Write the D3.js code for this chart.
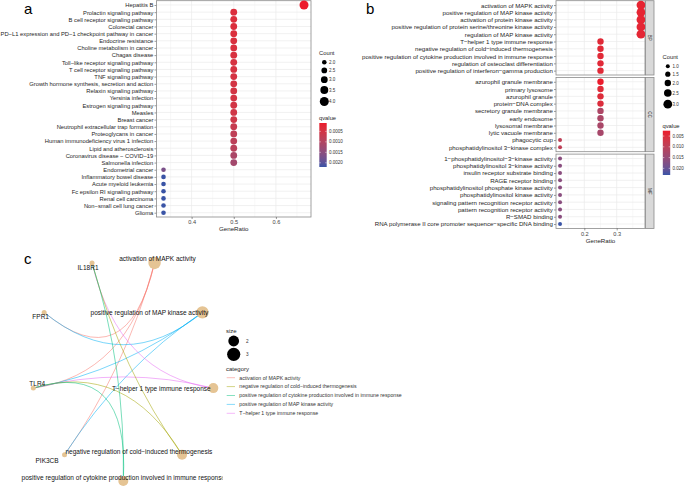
<!DOCTYPE html>
<html><head><meta charset="utf-8">
<script src="https://cdn.jsdelivr.net/npm/d3@7/dist/d3.min.js"></script>
<style>body{margin:0;background:#fff}svg{font-family:"Liberation Sans",Arial,Helvetica,sans-serif}</style>
</head><body><svg id="fig" width="685" height="487"></svg>
<script>
// ================= DATA =================
// Panel a: KEGG enrichment
const keggTerms = ["Hepatitis B","Prolactin signaling pathway","B cell receptor signaling pathway","Colorectal cancer",
 "PD\u2212L1 expression and PD\u22121 checkpoint pathway in cancer","Endocrine resistance","Choline metabolism in cancer",
 "Chagas disease","Toll\u2212like receptor signaling pathway","T cell receptor signaling pathway","TNF signaling pathway",
 "Growth hormone synthesis, secretion and action","Relaxin signaling pathway","Yersinia infection","Estrogen signaling pathway",
 "Measles","Breast cancer","Neutrophil extracellular trap formation","Proteoglycans in cancer",
 "Human immunodeficiency virus 1 infection","Lipid and atherosclerosis","Coronavirus disease \u2212 COVID\u221219",
 "Salmonella infection","Endometrial cancer","Inflammatory bowel disease","Acute myeloid leukemia",
 "Fc epsilon RI signaling pathway","Renal cell carcinoma","Non\u2212small cell lung cancer","Glioma"];
const keggGeneRatio = [4/6,3/6,3/6,3/6,3/6,3/6,3/6,3/6,3/6,3/6,3/6,3/6,3/6,3/6,3/6,3/6,3/6,3/6,3/6,3/6,3/6,3/6,3/6,
 2/6,2/6,2/6,2/6,2/6,2/6,2/6];
const keggCount = [4,3,3,3,3,3,3,3,3,3,3,3,3,3,3,3,3,3,3,3,3,3,3,2,2,2,2,2,2,2];
const keggQ = [0.0001,0.00035,0.00036,0.00037,0.00038,0.0004,0.0004,0.00042,0.00045,0.00045,0.00047,0.0005,0.0005,0.0005,
 0.00052,0.00055,0.00058,0.0007,0.0008,0.00085,0.0009,0.0011,0.0012,0.0017,0.0022,0.0022,0.0022,0.0022,0.0022,0.0022];
const keggXTicks = [0.4,0.5,0.6];
const keggCountTicks = [2.0,2.5,3.0,3.5,4.0];
const keggQTicks = [0.0005,0.0010,0.0015,0.0020];

// Panel b: GO enrichment
const goOntologies = ["BP","CC","MF"];
const goTermsBP = ["activation of MAPK activity","positive regulation of MAP kinase activity","activation of protein kinase activity",
 "positive regulation of protein serine/threonine kinase activity","regulation of MAP kinase activity","T\u2212helper 1 type immune response",
 "negative regulation of cold\u2212induced thermogenesis","positive regulation of cytokine production involved in immune response",
 "regulation of osteoclast differentiation","positive regulation of interferon\u2212gamma production"];
const goTermsCC = ["azurophil granule membrane","primary lysosome","azurophil granule","protein\u2212DNA complex",
 "secretory granule membrane","early endosome","lysosomal membrane","lytic vacuole membrane","phagocytic cup",
 "phosphatidylinositol 3\u2212kinase complex"];
const goTermsMF = ["1\u2212phosphatidylinositol\u22123\u2212kinase activity","phosphatidylinositol 3\u2212kinase activity",
 "insulin receptor substrate binding","RAGE receptor binding","phosphatidylinositol phosphate kinase activity",
 "phosphatidylinositol kinase activity","signaling pattern recognition receptor activity","pattern recognition receptor activity",
 "R\u2212SMAD binding","RNA polymerase II core promoter sequence\u2212specific DNA binding"];
const goRatioBP = [3/8,3/8,3/8,3/8,3/8,2/8,2/8,2/8,2/8,2/8];
const goRatioCC = [2/8,2/8,2/8,2/8,2/8,2/8,2/8,2/8,1/8,1/8];
const goRatioMF = [1/8,1/8,1/8,1/8,1/8,1/8,1/8,1/8,1/8,1/8];
const goCountBP = [3,3,3,3,3,2,2,2,2,2];
const goCountCC = [2,2,2,2,2,2,2,2,1,1];
const goCountMF = [1,1,1,1,1,1,1,1,1,1];
const goQBP = [0.0035,0.0035,0.0036,0.0037,0.0038,0.0042,0.0042,0.0042,0.0043,0.0044];
const goQCC = [0.0025,0.0045,0.0048,0.0050,0.0120,0.0122,0.0125,0.0128,0.0095,0.0095];
const goQMF = [0.0165,0.0165,0.0165,0.0165,0.0165,0.0165,0.0165,0.0165,0.0165,0.0231];
const goXTicks = [0.2,0.3];
const goCountTicks = [1.0,1.5,2.0,2.5,3.0];
const goQTicks = [0.005,0.010,0.015,0.020];

// Panel c: gene-concept network (circular layout order, starting at the bottom)
const netNodes = ["positive regulation of cytokine production involved in immune response",
 "negative regulation of cold\u2212induced thermogenesis","T\u2212helper 1 type immune response",
 "positive regulation of MAP kinase activity","activation of MAPK activity","IL18R1","FPR1","TLR4","PIK3CB"];
const netNodeSize = [2,2,2,3,3,null,null,null,null];
const netCategories = ["activation of MAPK activity","negative regulation of cold\u2212induced thermogenesis",
 "positive regulation of cytokine production involved in immune response","positive regulation of MAP kinase activity",
 "T\u2212helper 1 type immune response"];
const netEdgeFrom = ["activation of MAPK activity","activation of MAPK activity","activation of MAPK activity",
 "positive regulation of MAP kinase activity","positive regulation of MAP kinase activity","positive regulation of MAP kinase activity",
 "T\u2212helper 1 type immune response","T\u2212helper 1 type immune response",
 "negative regulation of cold\u2212induced thermogenesis","negative regulation of cold\u2212induced thermogenesis",
 "positive regulation of cytokine production involved in immune response","positive regulation of cytokine production involved in immune response"];
const netEdgeTo = ["FPR1","TLR4","PIK3CB","FPR1","TLR4","PIK3CB","IL18R1","TLR4","IL18R1","TLR4","IL18R1","TLR4"];
const netSizeTicks = [2,3];

// ================= STYLE =================
const qLow = "#EC1B2C", qHigh = "#3A54A6";
const gridCol = "#EBEBEB", borderCol = "#8A8A8A", txtCol = "#1E1E1E";
const catColors = ["#F8766D","#A3A500","#00BF7D","#00B0F6","#E76BF3"];
const nodeCol = "#E5C494";
const labelNudge = {
 "positive regulation of cytokine production involved in immune response":[0,-3.7,"middle"],
 "negative regulation of cold\u2212induced thermogenesis":[30.3,-2.6,"end"],
 "T\u2212helper 1 type immune response":[-2.6,0.7,"end"],
 "positive regulation of MAP kinase activity":[5.8,0.6,"end"],
 "activation of MAPK activity":[3,-4.5,"middle"],
 "IL18R1":[-4,4.5,"middle"],"FPR1":[-3.5,4.7,"middle"],"TLR4":[4,-4,"middle"],"PIK3CB":[-17.5,6.4,"middle"]};

const svg = d3.select("#fig");
svg.append("rect").attr("width",685).attr("height",487).attr("fill","#fff");
const defs = svg.append("defs");

function drawFrame(g, x, y0, y1, minorTicks, majorTicks, rowScale, fs){
  const [xl,xr] = x.range();
  g.append("rect").attr("x",xl).attr("y",y0).attr("width",xr-xl).attr("height",y1-y0).attr("fill","#fff");
  g.selectAll(null).data(minorTicks).join("line").attr("x1",d=>x(d)).attr("x2",d=>x(d)).attr("y1",y0).attr("y2",y1)
    .attr("stroke",gridCol).attr("stroke-width",0.35);
  g.selectAll(null).data(majorTicks).join("line").attr("x1",d=>x(d)).attr("x2",d=>x(d)).attr("y1",y0).attr("y2",y1)
    .attr("stroke",gridCol).attr("stroke-width",0.7);
  g.selectAll(null).data(rowScale.domain()).join("line").attr("x1",xl).attr("x2",xr).attr("y1",d=>rowScale(d)).attr("y2",d=>rowScale(d))
    .attr("stroke",gridCol).attr("stroke-width",0.7);
  const ax = g.append("g").attr("transform",`translate(${xl},0)`).call(d3.axisLeft(rowScale).tickSize(2).tickPadding(1.2));
  ax.select(".domain").remove();
  ax.selectAll("line").attr("stroke","#333").attr("stroke-width",0.5);
  ax.selectAll("text").attr("font-size",fs).attr("fill",txtCol).attr("font-family",null);
  g.append("rect").attr("x",xl).attr("y",y0).attr("width",xr-xl).attr("height",y1-y0)
    .attr("fill","none").attr("stroke",borderCol).attr("stroke-width",0.8);
}
function drawXAxis(g, x, y1, ticks, fmt){
  const ax = g.append("g").attr("transform",`translate(0,${y1})`).call(d3.axisBottom(x).tickValues(ticks).tickSize(2).tickPadding(1.5).tickFormat(fmt));
  ax.select(".domain").remove();
  ax.selectAll("line").attr("stroke","#333").attr("stroke-width",0.5);
  ax.selectAll("text").attr("font-size",5.6).attr("fill","#444").attr("font-family",null);
  const [xl,xr] = x.range();
  g.append("text").attr("x",(xl+xr)/2).attr("y",y1+14.3).attr("text-anchor","middle").attr("font-size",6.2)
    .attr("fill",txtCol).text("GeneRatio");
}
function drawCountLegend(g, x0, yTitle, ticks, r){
  g.append("text").attr("x",x0).attr("y",yTitle).attr("font-size",5.8).attr("fill",txtCol).text("Count");
  let cy = yTitle + 7.2, prevH = 0;
  ticks.forEach((t,i)=>{
    const h = Math.max(7.7, 2*r(t)+3);
    if(i>0) cy += (prevH+h)/2;
    prevH = h;
    g.append("circle").attr("cx",x0+5.3).attr("cy",cy).attr("r",r(t)).attr("fill","#000");
    g.append("text").attr("x",x0+10).attr("y",cy).attr("dy","0.35em").attr("font-size",4.5).attr("fill","#333").text(d3.format(".1f")(t));
  });
}
function drawQLegend(g, id, x0, yTitle, barTop, barBot, color, ticks, fmt){
  g.append("text").attr("x",x0).attr("y",yTitle).attr("font-size",5.8).attr("fill",txtCol).text("qvalue");
  const dom = color.domain();
  const grad = defs.append("linearGradient").attr("id",id).attr("x1",0).attr("x2",0).attr("y1",0).attr("y2",1);
  d3.range(0,1.0001,0.1).forEach(f=>grad.append("stop").attr("offset",f).attr("stop-color",color(dom[0]+f*(dom[1]-dom[0]))));
  g.append("rect").attr("x",x0+0.3).attr("y",barTop).attr("width",7.4).attr("height",barBot-barTop).attr("fill",`url(#${id})`);
  const s = d3.scaleLinear().domain(dom).range([barTop,barBot]);
  ticks.forEach(t=>{
    g.append("line").attr("x1",x0+0.3).attr("x2",x0+1.8).attr("y1",s(t)).attr("y2",s(t)).attr("stroke","#fff").attr("stroke-width",0.5);
    g.append("line").attr("x1",x0+6.2).attr("x2",x0+7.7).attr("y1",s(t)).attr("y2",s(t)).attr("stroke","#fff").attr("stroke-width",0.5);
    g.append("text").attr("x",x0+10).attr("y",s(t)).attr("dy","0.35em").attr("font-size",4.5).attr("fill","#333").text(fmt(t));
  });
}

// ================= PANEL A =================
{
  const g = svg.append("g");
  const x = d3.scaleLinear().domain([0.3167,0.6833]).range([156.5,311]);
  const y = d3.scalePoint().domain(keggTerms).range([0.7,217]).padding(0.6);
  const r = d3.scaleLinear().domain([2,4]).range([2.3,4.5]);
  const col = d3.scaleLinear().domain(d3.extent(keggQ)).range([qLow,qHigh]).interpolate(d3.interpolateLab);
  drawFrame(g, x, 0.7, 217, [0.35,0.45,0.55,0.65], keggXTicks, y, 5.8);
  drawXAxis(g, x, 217, keggXTicks, d3.format(".1f"));
  g.selectAll(".dotA").data(keggTerms).join("circle").attr("class","dotA")
    .attr("cx",(d,i)=>x(keggGeneRatio[i])).attr("cy",d=>y(d)).attr("r",(d,i)=>r(keggCount[i])).attr("fill",(d,i)=>col(keggQ[i]));
  drawCountLegend(g, 319, 55, keggCountTicks, r);
  drawQLegend(g, "gA", 319, 120, 123, 167, col, keggQTicks, d3.format(".4f"));
  g.append("text").attr("x",24).attr("y",14).attr("font-size",15).attr("fill","#000").text("a");
}

// ================= PANEL B =================
{
  const g = svg.append("g");
  const x = d3.scaleLinear().domain([0.1125,0.3875]).range([556,645]);
  const r = d3.scaleLinear().domain([1,3]).range([2,4.4]);
  const allQ = goQBP.concat(goQCC, goQMF);
  const col = d3.scaleLinear().domain(d3.extent(allQ)).range([qLow,qHigh]).interpolate(d3.interpolateLab);
  const facets = [
    {ont:goOntologies[0], terms:goTermsBP, ratio:goRatioBP, count:goCountBP, q:goQBP},
    {ont:goOntologies[1], terms:goTermsCC, ratio:goRatioCC, count:goCountCC, q:goQCC},
    {ont:goOntologies[2], terms:goTermsMF, ratio:goRatioMF, count:goCountMF, q:goQMF}];
  const panelH = 74.3, gap = 2.4, top0 = 0.7;
  facets.forEach((f,k)=>{
    const y0 = top0 + k*(panelH+gap), y1 = y0 + panelH;
    const y = d3.scalePoint().domain(f.terms).range([y0,y1]).padding(0.6);
    drawFrame(g, x, y0, y1, [0.15,0.25,0.35], goXTicks, y, 6.1);
    g.selectAll(null).data(f.terms).join("circle")
      .attr("cx",(d,i)=>x(f.ratio[i])).attr("cy",d=>y(d)).attr("r",(d,i)=>r(f.count[i])).attr("fill",(d,i)=>col(f.q[i]));
    g.append("rect").attr("x",645.6).attr("y",y0).attr("width",8.4).attr("height",panelH)
      .attr("fill","#D9D9D9").attr("stroke",borderCol).attr("stroke-width",0.8);
    g.append("text").attr("transform",`translate(${649.8},${(y0+y1)/2}) rotate(90)`).attr("text-anchor","middle")
      .attr("dy","0.35em").attr("font-size",4.6).attr("fill","#222").text(f.ont);
    if(k===2) drawXAxis(g, x, y1, goXTicks, d3.format(".1f"));
  });
  drawCountLegend(g, 662.5, 59, goCountTicks, r);
  drawQLegend(g, "gB", 662.5, 127.5, 130.7, 175, col, goQTicks, d3.format(".3f"));
  g.append("text").attr("x",366).attr("y",14).attr("font-size",15).attr("fill","#000").text("b");
}

// ================= PANEL C =================
{
  const g = svg.append("g");
  const sx = d3.scaleLinear().domain([-1,1]).range([31.9,214.7]);
  const sy = d3.scaleLinear().domain([-1,1]).range([481,256.2]);
  const rSize = d3.scaleLinear().domain([2,3]).range([5,6.2]);
  const catColor = d3.scaleOrdinal().domain(netCategories).range(catColors);
  const n = netNodes.length;
  const nodes = netNodes.map((name,i)=>{
    const a = (270 + i*360/n)*Math.PI/180;
    return {name, size:netNodeSize[i], x:sx(Math.cos(a)), y:sy(Math.sin(a))};
  });
  const byName = new Map(nodes.map(d=>[d.name,d]));
  const cx = sx(0), cy = sy(0), k = 1.15;
  const edges = netEdgeFrom.map((f,i)=>({cat:f, s:byName.get(f), t:byName.get(netEdgeTo[i])}));
  g.selectAll(".edge").data(edges).join("path").attr("class","edge")
    .attr("d",d=>{
      const mx=(d.s.x+d.t.x)/2, my=(d.s.y+d.t.y)/2;
      const qx = mx + k*(cx-mx), qy = my + k*(cy-my);
      return `M${d.s.x},${d.s.y}Q${qx},${qy} ${d.t.x},${d.t.y}`;
    })
    .attr("fill","none").attr("stroke",d=>catColor(d.cat)).attr("stroke-width",0.7).attr("stroke-opacity",0.75);
  g.selectAll(".node").data(nodes).join("circle").attr("class","node")
    .attr("cx",d=>d.x).attr("cy",d=>d.y).attr("r",d=>d.size? rSize(d.size):2.5).attr("fill",nodeCol);
  defs.append("clipPath").attr("id","clipC").append("rect").attr("x",0).attr("y",240).attr("width",222.5).attr("height",247);
  const lg = g.append("g").attr("clip-path","url(#clipC)");
  lg.selectAll(".lab").data(nodes).join("text").attr("class","lab")
    .attr("x",d=>d.x+labelNudge[d.name][0]).attr("y",d=>d.y+labelNudge[d.name][1]).attr("dy","0.35em")
    .attr("text-anchor",d=>labelNudge[d.name][2]).attr("font-size",6.5).attr("fill","#111").text(d=>d.name);

  g.append("text").attr("x",226).attr("y",332.5).attr("font-size",6).attr("fill",txtCol).text("size");
  netSizeTicks.forEach((t,i)=>{
    const yy = [341,354.3][i];
    g.append("circle").attr("cx",233.7).attr("cy",yy).attr("r",rSize(t)+0.4).attr("fill","#000");
    g.append("text").attr("x",246).attr("y",yy).attr("dy","0.35em").attr("font-size",4.6).attr("fill","#333").text(t);
  });
  g.append("text").attr("x",226).attr("y",370.5).attr("font-size",6).attr("fill",txtCol).text("category");
  netCategories.forEach((c,i)=>{
    const yy = 377.7 + i*8.9;
    g.append("line").attr("x1",226.7).attr("x2",235).attr("y1",yy).attr("y2",yy).attr("stroke",catColor(c)).attr("stroke-width",0.8).attr("stroke-opacity",0.6);
    g.append("text").attr("x",239.3).attr("y",yy).attr("dy","0.35em").attr("font-size",5.2).attr("fill","#333").text(c);
  });
  g.append("text").attr("x",24).attr("y",264).attr("font-size",15).attr("fill","#000").text("c");
}
</script></body></html>
